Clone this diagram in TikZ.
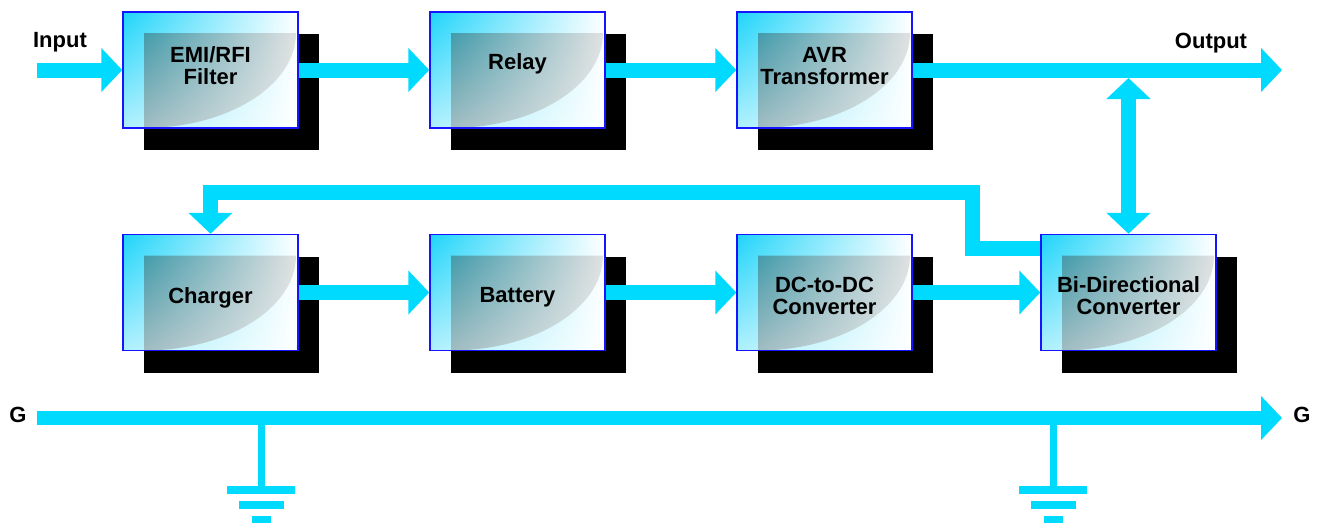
\documentclass[tikz,border=0pt]{standalone}
\usepackage{fontspec}
\setmainfont{Liberation Sans}
\usetikzlibrary{arrows.meta,shadows,shadings}
\definecolor{flowcyan}{RGB}{0,218,255}
\definecolor{boxblue}{RGB}{20,20,255}
\definecolor{boxcyan}{RGB}{30,212,250}
\definecolor{tealdark}{RGB}{22,138,158}
\definecolor{innerlow}{RGB}{150,182,188}
\begin{document}
\begin{tikzpicture}[x=1pt, y={(0pt,-1pt)}, >={Triangle[width=43pt,length=21pt]},
  every node/.style={font=\fontsize{22}{22}\selectfont\bfseries},
  flow/.style={draw=flowcyan, line width=15pt},
  boxtext/.style={align=center, inner sep=0pt},
  box/.style={draw=boxblue, line width=1.5pt, minimum width=175pt, minimum height=116pt,
    inner sep=0pt,
    upper left=boxcyan, upper right=white, lower left=boxcyan!35, lower right=white,
    drop shadow={shadow xshift=21pt, shadow yshift=-22pt, fill=black, opacity=1},
    path picture={\shade[upper left=tealdark, upper right=gray!25, lower left=innerlow, lower right=gray!15]
      ([shift={(21pt,-21pt)}]path picture bounding box.north west)
      -- ([shift={(-2pt,-21pt)}]path picture bounding box.north east)
      arc[start angle=0, end angle=-90, x radius=152pt, y radius=95pt] -- cycle;}}]
	\useasboundingbox (0,0) rectangle (1319,523);
	\node[box] (emi) at (210.5,70) {};
	\node[box] (relay) at (517.5,70) {};
	\node[box] (avr) at (824.5,70) {};
	\node[box] (charger) at (210.5,292.5) {};
	\node[box] (battery) at (517.5,292.5) {};
	\node[box] (dcdc) at (824.5,292.5) {};
	\node[box] (bidir) at (1128.5,292.5) {};
	\node[boxtext] (emi text) at ([yshift=4pt]emi.center) {EMI/RFI\\Filter};
	\node[boxtext] (relay text) at ([yshift=6pt]relay.center) {Relay};
	\node[boxtext] (avr text) at ([yshift=4pt]avr.center) {AVR\\Transformer};
	\node[boxtext] (charger text) at ([yshift=-5pt]charger.center) {Charger};
	\node[boxtext] (battery text) at ([yshift=-5pt]battery.center) {Battery};
	\node[boxtext] (dcdc text) at ([yshift=-3.5pt]dcdc.center) {DC-to-DC\\Converter};
	\node[boxtext] (bidir text) at ([yshift=-3pt]bidir.center) {Bi-Directional\\Converter};
	\node (input) at (60,42) {Input};
	\node (output) at (1211,43) {Output};
	\node (gleft) at (18,415) {G};
	\node (gright) at (1302,415) {G};
	\coordinate (in) at (37,70);
	\coordinate (out) at (1282,70);
	\coordinate (tap) at (1128.5,78);
	\coordinate (g0) at (37,418);
	\coordinate (g1) at (1282,418);
	\draw[flow, ->] (in) -- (emi);
	\draw[flow, ->] (emi) -- (relay);
	\draw[flow, ->] (relay) -- (avr);
	\draw[flow, ->] (avr) -- (out);
	\draw[flow, <->] (tap) -- (bidir);
	\draw[flow, ->] ([yshift=44pt]bidir.west) -| (972,192) -| (charger);
	\draw[flow, ->] (charger) -- (battery);
	\draw[flow, ->] (battery) -- (dcdc);
	\draw[flow, ->] (dcdc) -- (bidir);
	\draw[flow, ->, line width=14pt] (g0) -- (g1);
	\foreach \gx in {261,1053} {
		\draw[flowcyan, line width=7pt] (\gx,418) -- (\gx,486);
		\fill[flowcyan] (\gx-34,486) rectangle (\gx+34,494);
		\fill[flowcyan] (\gx-22.5,501) rectangle (\gx+22.5,509);
		\fill[flowcyan] (\gx-9.5,516) rectangle (\gx+9.5,523);
	}
\end{tikzpicture}
\end{document}
